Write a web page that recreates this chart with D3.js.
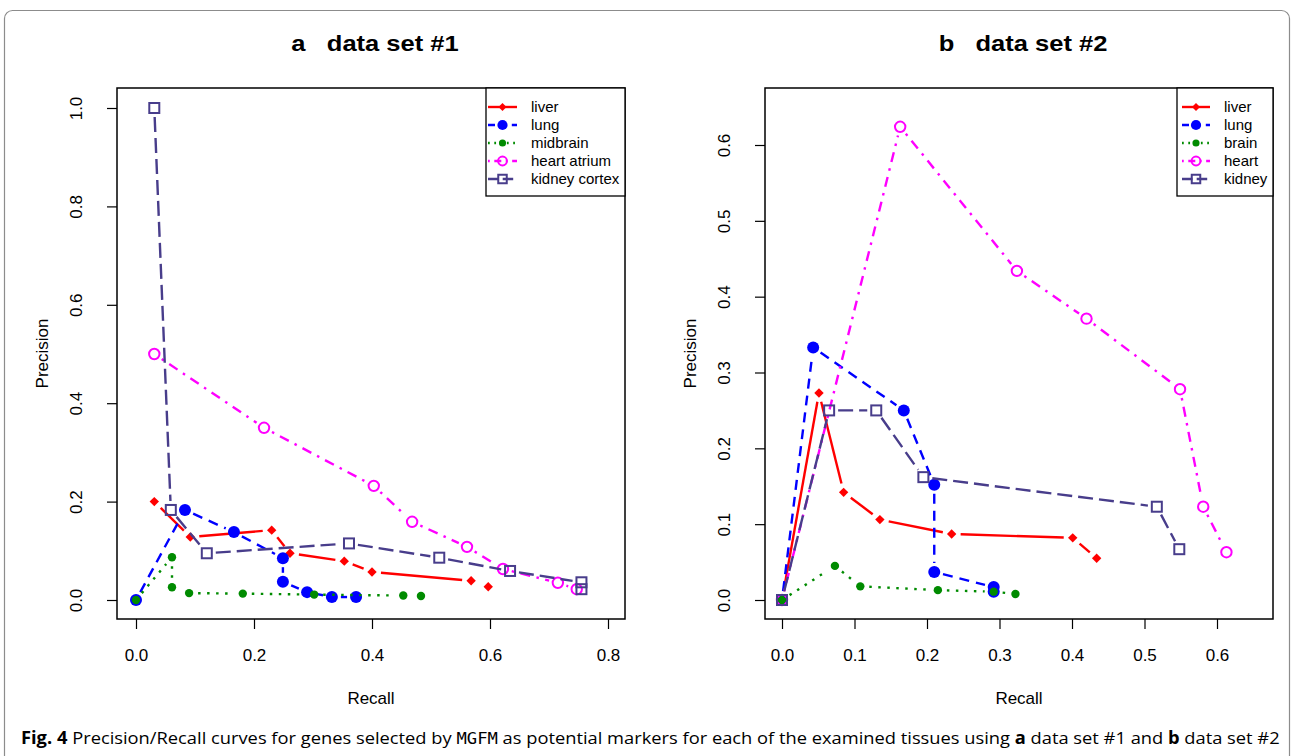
<!DOCTYPE html>
<html><head><meta charset="utf-8">
<script src="https://cdn.jsdelivr.net/npm/d3@7"></script>
<style>body{margin:0;background:#fff}svg{display:block}</style>
</head><body>
<svg id="c" width="1292" height="756"></svg>
<script>
// ---------- data ----------
const namesA = ["liver", "lung", "midbrain", "heart atrium", "kidney cortex"];
const namesB = ["liver", "lung", "brain", "heart", "kidney"];
const colors = ["#ff0000", "#0000ff", "#008b00", "#ff00ff", "#483d8b"];

// panel a (data set #1)
const a_liver_recall     = [0.031, 0.092, 0.230, 0.261, 0.353, 0.400, 0.568, 0.597];
const a_liver_precision  = [0.200, 0.128, 0.142, 0.095, 0.079, 0.057, 0.039, 0.027];
const a_lung_recall      = [0.000, 0.083, 0.166, 0.249, 0.249, 0.290, 0.332, 0.373];
const a_lung_precision   = [0.000, 0.183, 0.138, 0.085, 0.037, 0.016, 0.006, 0.006];
const a_brain_recall     = [0.000, 0.061, 0.061, 0.090, 0.181, 0.302, 0.453, 0.483];
const a_brain_precision  = [0.000, 0.087, 0.026, 0.014, 0.013, 0.011, 0.009, 0.008];
const a_heart_recall     = [0.031, 0.217, 0.403, 0.468, 0.561, 0.622, 0.715, 0.747];
const a_heart_precision  = [0.500, 0.350, 0.232, 0.159, 0.108, 0.063, 0.035, 0.022];
const a_kidney_recall    = [0.031, 0.059, 0.120, 0.361, 0.514, 0.634, 0.755, 0.755];
const a_kidney_precision = [1.000, 0.183, 0.095, 0.115, 0.086, 0.059, 0.036, 0.022];

// panel b (data set #2)
const b_liver_recall     = [0.000, 0.051, 0.085, 0.135, 0.234, 0.401, 0.434];
const b_liver_precision  = [0.000, 0.273, 0.142, 0.106, 0.087, 0.082, 0.055];
const b_lung_recall      = [0.000, 0.043, 0.168, 0.210, 0.210, 0.292, 0.292];
const b_lung_precision   = [0.000, 0.333, 0.250, 0.152, 0.037, 0.017, 0.011];
const b_brain_recall     = [0.000, 0.073, 0.108, 0.215, 0.292, 0.322];
const b_brain_precision  = [0.000, 0.045, 0.018, 0.013, 0.011, 0.008];
const b_heart_recall     = [0.000, 0.163, 0.324, 0.420, 0.549, 0.581, 0.613];
const b_heart_precision  = [0.000, 0.624, 0.434, 0.371, 0.278, 0.123, 0.063];
const b_kidney_recall    = [0.000, 0.065, 0.130, 0.195, 0.517, 0.548];
const b_kidney_precision = [0.000, 0.250, 0.250, 0.162, 0.123, 0.067];

const ticksA_x = [0, 0.2, 0.4, 0.6, 0.8];
const ticksA_y = [0, 0.2, 0.4, 0.6, 0.8, 1.0];
const ticksB_x = [0, 0.1, 0.2, 0.3, 0.4, 0.5, 0.6];
const ticksB_y = [0, 0.1, 0.2, 0.3, 0.4, 0.5, 0.6];

const titleA = "a   data set #1";
const titleB = "b   data set #2";

// ---------- styles ----------
const dashes = [null, "10,7", "2.5,6.5", "2.5,6.5,10,6.5", "15,6"];
const marks = ["diamond", "bigdot", "dot", "ocircle", "osquare"];
const FONT = "'Liberation Sans', Arial, Helvetica, sans-serif";
const LW = 2.4, GAP = 9;

const svg = d3.select("#c");

// outer frame
svg.append("rect").attr("x", 4.5).attr("y", 10.5).attr("width", 1285).attr("height", 800)
  .attr("rx", 8).attr("fill", "none").attr("stroke", "#8c8c8c").attr("stroke-width", 1.2);

function drawMarker(g, type, x, y, col, s = 1) {
  if (type === "diamond") {
    g.append("path").attr("d", d3.symbol(d3.symbolSquare, 44 * s * s)())
      .attr("transform", `translate(${x},${y}) rotate(45)`).attr("fill", col);
  } else if (type === "bigdot") {
    g.append("circle").attr("cx", x).attr("cy", y).attr("r", 6 * s).attr("fill", col);
  } else if (type === "dot") {
    g.append("circle").attr("cx", x).attr("cy", y).attr("r", 4.2 * s).attr("fill", col);
  } else if (type === "ocircle") {
    g.append("circle").attr("cx", x).attr("cy", y).attr("r", 5.2 * s).attr("fill", "none")
      .attr("stroke", col).attr("stroke-width", 2);
  } else if (type === "osquare") {
    const h = 5 * s;
    g.append("rect").attr("x", x - h).attr("y", y - h).attr("width", 2 * h).attr("height", 2 * h)
      .attr("fill", "none").attr("stroke", col).attr("stroke-width", 2);
  }
}

function panel(cfg) {
  const { box, xs, ys, xt, yt, title, names, series, legBox, legLine } = cfg;
  const g = svg.append("g");

  // title
  const cx = (box.l + box.r) / 2;
  g.append("text").attr("x", 0).attr("y", 0)
    .attr("transform", `translate(${cx + 4},51) scale(1.16,1)`)
    .attr("text-anchor", "middle").attr("font-family", FONT).attr("font-weight", "bold")
    .attr("font-size", 22).attr("xml:space", "preserve").style("white-space", "pre").text(title);

  // axes
  const ax = g.append("g").attr("transform", `translate(0,${box.b})`)
    .call(d3.axisBottom(xs).tickValues(xt).tickFormat(d3.format(".1f")).tickSize(10).tickPadding(20));
  const ay = g.append("g").attr("transform", `translate(${box.l},0)`)
    .call(d3.axisLeft(ys).tickValues(yt).tickFormat(d3.format(".1f")).tickSize(10).tickPadding(0));
  [ax, ay].forEach(a => {
    a.selectAll("path.domain").remove();
    a.selectAll("line").attr("stroke", "#000").attr("stroke-width", 1.2);
    a.selectAll("text").attr("font-family", FONT).attr("font-size", 17).attr("fill", "#000");
  });
  ax.selectAll("text").attr("dy", "0.71em");
  ay.selectAll(".tick text").attr("x", null).attr("y", 0).attr("dy", "0.35em")
    .attr("text-anchor", "middle")
    .attr("transform", "translate(-41,0) rotate(-90)");

  // axis titles
  g.append("text").attr("x", cx).attr("y", 704).attr("text-anchor", "middle")
    .attr("font-family", FONT).attr("font-size", 17).text("Recall");
  g.append("text").attr("transform", `translate(${box.l - 69},${(box.t + box.b) / 2}) rotate(-90)`)
    .attr("text-anchor", "middle").attr("font-family", FONT).attr("font-size", 17).text("Precision");

  // series
  series.forEach((s, i) => {
    const pts = s.x.map((v, k) => [xs(v), ys(s.y[k])]);
    const lg = g.append("g");
    for (let k = 0; k < pts.length - 1; k++) {
      const [x0, y0] = pts[k], [x1, y1] = pts[k + 1];
      const d = Math.hypot(x1 - x0, y1 - y0);
      if (d <= 2 * GAP + 1) continue;
      const ux = (x1 - x0) / d, uy = (y1 - y0) / d;
      lg.append("line").attr("x1", x0 + ux * GAP).attr("y1", y0 + uy * GAP)
        .attr("x2", x1 - ux * GAP).attr("y2", y1 - uy * GAP)
        .attr("stroke", colors[i]).attr("stroke-width", LW)
        .attr("stroke-dasharray", dashes[i]);
    }
    pts.forEach(p => drawMarker(lg, marks[i], p[0], p[1], colors[i]));
  });

  // box
  g.append("rect").attr("x", box.l).attr("y", box.t).attr("width", box.r - box.l).attr("height", box.b - box.t)
    .attr("fill", "none").attr("stroke", "#000").attr("stroke-width", 1.5);

  // legend
  g.append("rect").attr("x", legBox.l).attr("y", box.t).attr("width", box.r - legBox.l).attr("height", legBox.b - box.t)
    .attr("fill", "#fff").attr("stroke", "#000").attr("stroke-width", 1.3);
  names.forEach((n, i) => {
    const y = 107 + i * 18;
    g.append("line").attr("x1", legLine[0]).attr("x2", legLine[1]).attr("y1", y).attr("y2", y)
      .attr("stroke", colors[i]).attr("stroke-width", LW)
      .attr("stroke-dasharray", dashes[i] ? dashes[i].split(",").map(v => +v * 0.7).join(",") : null);
    drawMarker(g, marks[i], (legLine[0] + legLine[1]) / 2, y, colors[i], 0.85);
    g.append("text").attr("x", legLine[1] + 14).attr("y", y).attr("dy", "0.36em")
      .attr("font-family", FONT).attr("font-size", 15).text(n);
  });
}

const boxA = { l: 117, r: 625, t: 88, b: 619 };
const boxB = { l: 765, r: 1273, t: 88, b: 619 };

panel({
  box: boxA,
  xs: d3.scaleLinear().domain([0, 0.8]).range([136, 608]),
  ys: d3.scaleLinear().domain([0, 1]).range([600, 108]),
  xt: ticksA_x, yt: ticksA_y, title: titleA, names: namesA,
  series: [
    { x: a_liver_recall, y: a_liver_precision },
    { x: a_lung_recall, y: a_lung_precision },
    { x: a_brain_recall, y: a_brain_precision },
    { x: a_heart_recall, y: a_heart_precision },
    { x: a_kidney_recall, y: a_kidney_precision }
  ],
  legBox: { l: 486, b: 196 }, legLine: [488, 517]
});

panel({
  box: boxB,
  xs: d3.scaleLinear().domain([0, 0.6]).range([782, 1217]),
  ys: d3.scaleLinear().domain([0, 0.6]).range([600, 145]),
  xt: ticksB_x, yt: ticksB_y, title: titleB, names: namesB,
  series: [
    { x: b_liver_recall, y: b_liver_precision },
    { x: b_lung_recall, y: b_lung_precision },
    { x: b_brain_recall, y: b_brain_precision },
    { x: b_heart_recall, y: b_heart_precision },
    { x: b_kidney_recall, y: b_kidney_precision }
  ],
  legBox: { l: 1177, b: 196 }, legLine: [1182, 1210]
});

// caption
const cap = svg.append("text").attr("x", 0).attr("y", 0)
  .attr("font-family", "'Open Sans', 'Noto Sans', sans-serif").attr("font-size", 17)
  .attr("xml:space", "preserve").style("white-space", "pre");
const parts = [
  ["Fig. 4", "bold", null], [" Precision/Recall curves for genes selected by ", null, null],
  ["MGFM", null, "mono"], [" as potential markers for each of the examined tissues using ", null, null],
  ["a", "bold", null], [" data set #1 and ", null, null], ["b", "bold", null], [" data set #2", null, null]
];
parts.forEach(([t, w, f]) => {
  const ts = cap.append("tspan").text(t);
  if (w) ts.attr("font-weight", w);
  if (f) ts.attr("font-family", "'DejaVu Sans Mono', 'Liberation Mono', monospace").attr("font-size", 16);
});
const cw = cap.node().getComputedTextLength();
cap.attr("transform", `translate(21,744) scale(${1259 / cw},1)`);
</script>
</body></html>
